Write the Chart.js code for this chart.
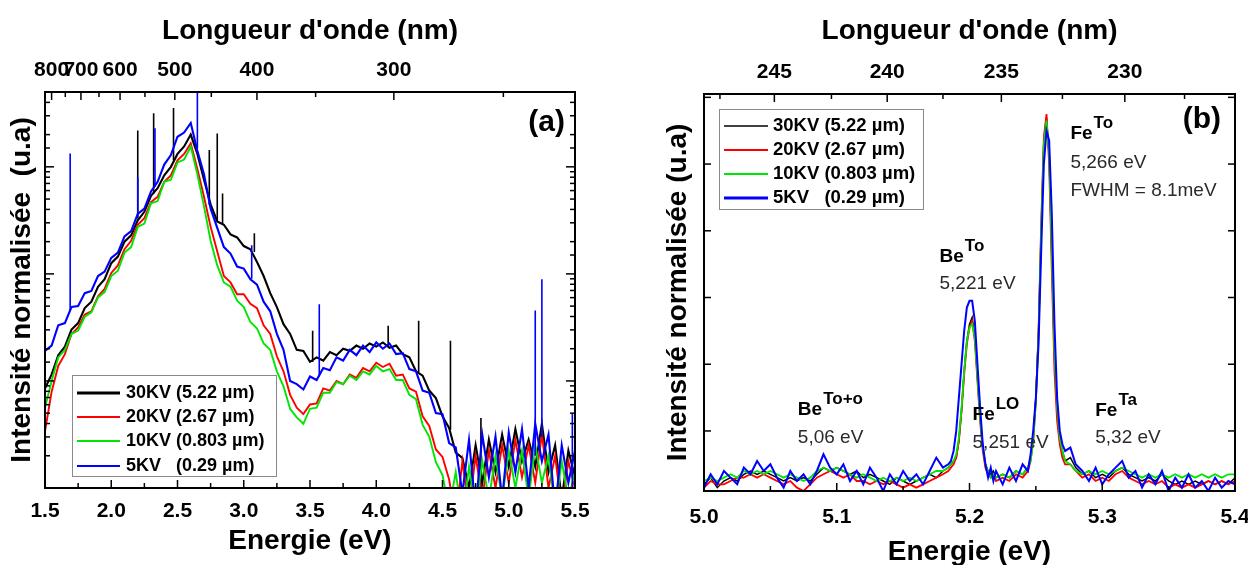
<!DOCTYPE html>
<html>
<head>
<meta charset="utf-8">
<title>Spectres CL</title>
<script src="https://cdn.jsdelivr.net/npm/chart.js"></script>
<style>
  body { margin: 0; background: #fff; }
  .panel { position: absolute; top: 0; height: 565px; }
  #panelA { left: 0; width: 620px; }
  #panelB { left: 624px; width: 624px; }
</style>
</head>
<body>
<div class="panel" id="panelA"><canvas id="chartA"></canvas></div>
<div class="panel" id="panelB"><canvas id="chartB"></canvas></div>
<script>
// ---- data, panel (a) : log intensity vs energy
const seriesNames = ['30KV (5.22 µm)', '20KV (2.67 µm)', '10KV (0.803 µm)', '5KV   (0.29 µm)'];
const seriesColors = ['#000000', '#ff0000', '#00e600', '#0000ff'];

const energyA = [1.50,1.55,1.60,1.65,1.70,1.75,1.80,1.85,1.90,1.95,2.00,2.05,2.10,2.15,2.20,2.25,2.30,2.35,2.40,2.45,
  2.50,2.55,2.60,2.65,2.70,2.75,2.80,2.85,2.90,2.95,3.00,3.05,3.10,3.15,3.20,3.25,3.30,3.35,3.40,3.45,
  3.50,3.55,3.60,3.65,3.70,3.75,3.80,3.85,3.90,3.95,4.00,4.05,4.10,4.15,4.20,4.25,4.30,4.35,4.40,4.45,
  4.50,4.55,4.60,4.65,4.70,4.75,4.80,4.85,4.90,4.95,5.00,5.05,5.10,5.15,5.20,5.25,5.30,5.35,5.40,5.45,5.50];

const aBlack = [8.51,11.5,17.4,20.9,30.2,34.7,47.9,55.0,75.9,89.1,126,145,200,229,316,380,537,631,832,1000,
  1320,1550,2000,1320,759,447,309,288,234,219,182,170,129,95.5,66.1,49.0,33.9,27.5,19.5,19.1,
  15.1,16.6,15.5,18.6,17.4,20.0,19.1,21.4,20.0,22.4,20.9,22.9,20.4,21.4,17.8,16.6,12.3,11.2,8.13,6.92,
  4.68,3.63,2.14,1.91,1.0,2.51,1.12,2.82,1.41,3.16,1.58,3.55,1.78,2.82,1.58,3.98,1.41,2.51,0.79,2.24,1.26];
const aRed = [3.39,7.94,13.8,17.8,27.5,31.6,41.7,44.7,61.7,72.4,102,120,170,204,288,331,468,525,724,832,
  1150,1320,1660,955,525,275,162,95.5,83.2,64.6,64.6,52.5,47.9,33.1,27.5,17.0,12.3,7.41,5.62,4.90,
  6.03,6.17,8.51,8.13,10.0,9.33,11.5,10.7,13.2,12.3,14.8,13.5,14.5,11.2,11.5,8.51,7.94,4.68,3.80,2.29,
  1.95,1.20,0.50,1.78,0.63,2.0,0.79,2.24,1.0,2.51,1.12,2.82,1.26,2.51,1.12,3.16,1.0,2.0,0.63,1.78,1.0];
const aGreen = [5.62,10.0,16.6,19.5,27.5,29.5,39.8,43.7,60.3,67.6,95.5,107,158,178,275,295,457,479,724,759,
  1100,1170,1550,851,427,204,120,83.2,75.9,56.2,49.0,35.5,30.9,22.4,19.5,12.3,8.91,5.50,4.57,3.98,
  5.50,5.62,7.76,7.76,9.77,9.33,11.2,10.2,12.3,11.5,13.8,12.3,12.9,10.2,10.2,7.41,6.76,3.89,3.02,1.74,
  1.32,0.63,1.41,0.50,1.58,0.63,1.78,0.79,2.0,0.79,2.24,1.0,2.24,0.79,2.51,1.12,2.0,0.63,1.78,0.79,1.41];
const aBlue = [19.1,21.4,33.1,34.7,49.0,50.1,66.1,69.2,95.5,105,141,158,224,251,363,407,589,724,1050,1290,
  1910,2090,2570,1410,851,407,269,178,155,117,112,89.1,79.4,55.0,44.7,27.5,19.5,10.0,9.33,8.32,
  11.0,10.2,13.2,12.6,16.6,15.5,19.5,17.4,21.4,18.6,22.9,20.0,22.4,17.8,18.2,12.9,12.3,8.13,7.76,5.01,
  4.90,2.63,2.40,0.89,2.82,0.63,3.16,1.26,3.02,0.79,3.31,1.41,3.55,1.0,3.98,1.78,3.16,0.63,2.51,1.12,2.24];

// narrow spikes: [energy, foot, tip]
const spikesBlack = [[2.20,330,2190],[2.32,560,3160],[2.47,1150,3540],[2.74,440,1440],[2.80,310,2050],
  [2.84,290,562],[3.08,160,240],[3.52,15,29.4],[4.09,21,32.8],[4.32,12,36.5],[4.56,3.5,23.7],[4.79,1.0,4.5]];
const spikesBlue = [[1.69,45,1330],[2.20,340,800],[2.33,650,2290],[2.65,1500,6000],[3.06,90,185],
  [3.57,11,52],[5.20,2,45.6],[5.25,3,89],[5.48,1,4.9]];

const waveTicksA = [800,750,700,650,600,550,500,450,400,350,300,250];
const waveLabelsA = [800,700,600,500,400,300];

// ---- data, panel (b) : linear intensity near the band edge
const energyB = [5.000,5.005,5.010,5.015,5.020,5.025,5.030,5.035,5.040,5.045,5.050,5.055,5.060,5.065,5.070,5.075,
  5.080,5.085,5.090,5.095,5.100,5.105,5.110,5.115,5.120,5.125,5.130,5.135,5.140,5.145,5.150,5.155,5.160,5.165,5.170,5.175,5.180,
  5.184,5.186,5.188,5.190,5.192,5.194,5.196,5.198,5.200,5.202,5.204,5.206,5.208,5.210,5.212,5.214,5.216,5.218,5.220,
  5.225,5.230,5.235,5.240,
  5.244,5.246,5.248,5.250,5.252,5.254,5.256,5.258,5.260,5.262,5.264,5.266,5.268,5.270,5.272,
  5.276,5.280,5.285,5.290,5.295,5.300,5.305,5.310,5.315,5.320,5.325,5.330,5.335,5.340,5.345,5.350,5.355,5.360,
  5.365,5.370,5.375,5.380,5.385,5.390,5.395,5.400];

const bBlack = [.04,.06,.03,.05,.06,.05,.07,.08,.07,.08,.07,.06,.05,.06,.05,.06,.05,.07,.09,.08,.09,.08,.07,.08,.06,.07,.06,.05,.04,.06,.05,.04,.05,.06,.07,.06,.08,
  .09,.10,.11,.12,.17,.26,.38,.47,.52,.54,.48,.36,.24,.15,.10,.08,.07,.08,.06,
  .07,.06,.08,.07,
  .09,.12,.18,.30,.50,.80,1.07,1.14,1.02,.72,.42,.26,.18,.14,.11,
  .12,.09,.07,.08,.06,.07,.06,.08,.09,.07,.06,.05,.06,.05,.07,.05,.04,.05,.04,.05,.04,.05,.04,.05,.04,.06];
const bRed = [.03,.05,.04,.04,.05,.06,.06,.07,.06,.07,.06,.05,.04,.05,.03,.02,.04,.06,.07,.08,.07,.06,.07,.05,.05,.04,.05,.04,.05,.04,.03,.04,.03,.04,.05,.06,.07,
  .08,.09,.10,.12,.17,.26,.37,.46,.51,.53,.47,.35,.23,.14,.09,.07,.06,.07,.05,
  .06,.05,.07,.06,
  .08,.11,.17,.29,.50,.82,1.08,1.15,1.00,.68,.38,.23,.16,.12,.10,
  .10,.08,.06,.07,.05,.06,.05,.07,.08,.06,.05,.04,.05,.04,.05,.03,.04,.03,.04,.03,.04,.05,.04,.05,.04,.05];
const bGreen = [.05,.06,.05,.06,.07,.06,.08,.07,.08,.07,.08,.07,.06,.07,.06,.05,.06,.08,.09,.08,.09,.08,.07,.06,.07,.06,.05,.06,.05,.06,.05,.06,.05,.06,.07,.08,.08,
  .09,.10,.11,.13,.18,.27,.38,.47,.51,.52,.48,.36,.24,.15,.10,.08,.06,.07,.06,
  .07,.06,.08,.07,
  .09,.11,.17,.29,.49,.80,1.06,1.13,1.03,.74,.44,.27,.18,.14,.11,
  .10,.08,.07,.08,.07,.08,.07,.08,.09,.08,.07,.06,.07,.06,.07,.06,.07,.06,.07,.06,.07,.06,.07,.06,.07,.07];
const bBlue = [.03,.07,.04,.08,.06,.04,.09,.07,.11,.08,.10,.06,.03,.08,.05,.07,.04,.08,.13,.09,.07,.10,.05,.08,.04,.09,.06,.02,.07,.04,.08,.05,.07,.04,.08,.12,.09,
  .10,.11,.14,.20,.30,.40,.50,.57,.59,.59,.53,.40,.27,.16,.10,.06,.09,.05,.08,
  .04,.09,.05,.10,
  .08,.13,.20,.30,.46,.74,1.00,1.10,1.07,.85,.52,.30,.20,.16,.14,
  .15,.10,.08,.05,.09,.04,.07,.09,.11,.06,.08,.03,.07,.04,.08,.02,.06,.03,.07,.03,.05,.02,.06,.03,.05,.04];

// top axis of (b): wavelength ticks and where they sit on the energy axis
const waveTicksB = [247.5,245,242.5,240,237.5,235,232.5,230,227.5];
const waveTickEnergyB = [5.012,5.053,5.096,5.138,5.180,5.224,5.270,5.317,5.362];
const waveLabelsB = [245,240,235,230];
const yTicksB = [0.2,0.4,0.6,0.8,1.0,1.2];

const peakNamesB = [
  { e: 5.0707, v: 0.249, base: 'Be', sup: 'To+o' },
  { e: 5.1774, v: 0.706, base: 'Be', sup: 'To' },
  { e: 5.2023, v: 0.234, base: 'Fe', sup: 'LO' },
  { e: 5.2760, v: 1.075, base: 'Fe', sup: 'To' },
  { e: 5.2947, v: 0.245, base: 'Fe', sup: 'Ta' }
];
const peakNotesB = [
  { e: 5.0707, v: 0.164, text: '5,06 eV' },
  { e: 5.1774, v: 0.626, text: '5,221 eV' },
  { e: 5.2023, v: 0.149, text: '5,251 eV' },
  { e: 5.2760, v: 0.988, text: '5,266 eV' },
  { e: 5.2760, v: 0.904, text: 'FWHM = 8.1meV' },
  { e: 5.2947, v: 0.164, text: '5,32 eV' }
];

const hc = 1239.84;
const FONT = "'Liberation Sans', Arial, sans-serif";
Chart.defaults.font.family = FONT;
Chart.defaults.color = '#000';

const isStep = (v, s) => Math.abs(v / s - Math.round(v / s)) < 1e-6;

function lineSet(i, xs, ys, width) {
  return {
    label: seriesNames[i],
    legendRow: i,
    data: xs.map((x, k) => ({ x: x, y: ys[k] })),
    borderColor: seriesColors[i],
    borderWidth: width,
    order: 4 - i,
    pointRadius: 0,
    fill: false
  };
}

function spikeSet(i, spikes, width) {
  const pts = [];
  spikes.forEach(s => {
    pts.push({ x: s[0], y: s[1] }, { x: s[0], y: s[2] }, { x: s[0], y: null });
  });
  return { data: pts, borderColor: seriesColors[i], borderWidth: width, order: 4 - i, pointRadius: 0, spanGaps: false };
}

// keep the chart area fixed: no extra room for the end labels
function fixHeight(h) {
  return s => { s.height = h; s.paddingLeft = 0; s.paddingRight = 0; };
}

// frame, inner ticks, panel letter and legend
const framePlugin = {
  id: 'frame',
  afterDatasetsDraw(chart, args, opts) {
    const { ctx, chartArea: a, scales } = chart;
    const mark = (x1, y1, x2, y2) => { ctx.beginPath(); ctx.moveTo(x1, y1); ctx.lineTo(x2, y2); ctx.stroke(); };
    ctx.save();
    ctx.strokeStyle = '#000';
    ctx.lineWidth = 1.5;
    scales.x.ticks.forEach(t => {
      const px = scales.x.getPixelForValue(t.value);
      mark(px, a.bottom, px, a.bottom - (t.label ? opts.major : opts.minor));
    });
    scales.xTop.ticks.forEach(t => {
      const px = scales.xTop.getPixelForValue(t.value);
      mark(px, a.top, px, a.top + (t.label ? opts.major : opts.minor));
    });
    scales.y.ticks.forEach(t => {
      const py = scales.y.getPixelForValue(t.value);
      let big = true;
      if (opts.logY) {
        const l = Math.log10(t.value);
        big = Math.abs(l - Math.round(l)) < 1e-6;
      }
      const len = big ? opts.yMajor : opts.minor;
      mark(a.left, py, a.left + len, py);
      mark(a.right, py, a.right - len, py);
    });
    ctx.lineWidth = 2;
    ctx.strokeRect(a.left, a.top, a.right - a.left, a.bottom - a.top);

    ctx.fillStyle = '#000';
    ctx.font = 'bold 30px ' + FONT;
    ctx.textAlign = 'right';
    ctx.textBaseline = 'alphabetic';
    ctx.fillText(opts.letter, a.right - opts.letterDx, a.top + opts.letterDy);

    const lg = opts.legend;
    const bx = a.left + lg.dx;
    const by = lg.fromBottom ? a.bottom - lg.dy - lg.h : a.top + lg.dy;
    ctx.fillStyle = '#fff';
    ctx.fillRect(bx, by, lg.w, lg.h);
    ctx.strokeStyle = '#8a8a8a';
    ctx.lineWidth = 1;
    ctx.strokeRect(bx + 0.5, by + 0.5, lg.w, lg.h);
    ctx.font = 'bold ' + lg.size + 'px ' + FONT;
    ctx.textAlign = 'left';
    ctx.textBaseline = 'middle';
    chart.data.datasets.forEach(d => {
      if (d.legendRow === undefined) return;
      const ry = by + lg.rows[d.legendRow];
      ctx.strokeStyle = d.borderColor;
      ctx.lineWidth = lg.widths[d.legendRow];
      mark(bx + lg.x1, ry, bx + lg.x2, ry);
      ctx.fillStyle = '#000';
      ctx.fillText(d.label, bx + lg.tx, ry);
    });
    ctx.restore();
  }
};

// peak names and energies of panel (b)
const peakLabelPlugin = {
  id: 'peakLabels',
  afterDatasetsDraw(chart) {
    const { ctx, scales } = chart;
    ctx.save();
    ctx.textAlign = 'left';
    ctx.textBaseline = 'alphabetic';
    peakNamesB.forEach(p => {
      const x = scales.x.getPixelForValue(p.e);
      const y = scales.y.getPixelForValue(p.v);
      ctx.fillStyle = '#000';
      ctx.font = 'bold 19px ' + FONT;
      ctx.fillText(p.base, x, y);
      const w = ctx.measureText(p.base).width;
      ctx.font = 'bold 17px ' + FONT;
      ctx.fillText(p.sup, x + w + 1, y - 11);
    });
    ctx.fillStyle = '#2a2a2a';
    ctx.font = '19px ' + FONT;
    peakNotesB.forEach(p => {
      ctx.fillText(p.text, scales.x.getPixelForValue(p.e), scales.y.getPixelForValue(p.v));
    });
    ctx.restore();
  }
};

const tickFont = { size: 21, weight: 'bold' };
const titleFont = { size: 28, weight: 'bold' };
const noGrid = { display: false, drawTicks: false };

// ---- panel (a)
new Chart(document.getElementById('chartA'), {
  type: 'line',
  data: {
    datasets: [
      lineSet(0, energyA, aBlack, 2.1),
      lineSet(1, energyA, aRed, 1.9),
      lineSet(2, energyA, aGreen, 1.9),
      lineSet(3, energyA, aBlue, 2.1),
      spikeSet(0, spikesBlack, 1.6),
      spikeSet(3, spikesBlue, 1.6)
    ]
  },
  plugins: [framePlugin],
  options: {
    animation: false,
    responsive: true,
    maintainAspectRatio: false,
    layout: { padding: { left: 0, right: 45, top: 0, bottom: 0 }, autoPadding: false },
    plugins: {
      legend: { display: false },
      tooltip: { enabled: false },
      frame: {
        major: 8, minor: 5, yMajor: 9, logY: true,
        letter: '(a)', letterDx: 10, letterDy: 39,
        legend: { dx: 27, dy: 12, fromBottom: true, w: 204, h: 101, size: 18,
          x1: 5, x2: 48, tx: 54, rows: [18, 42, 66, 91], widths: [3, 2, 2, 2] }
      }
    },
    scales: {
      x: {
        type: 'linear', position: 'bottom', min: 1.5, max: 5.5,
        grid: noGrid, border: { display: false },
        ticks: { stepSize: 0.25, autoSkip: false, maxRotation: 0, padding: 11, font: tickFont, color: '#000',
          callback: v => isStep(v, 0.5) ? v.toFixed(1) : '' },
        title: { display: true, text: 'Energie (eV)', font: titleFont, color: '#000', padding: { top: 0, bottom: 7 } },
        afterFit: fixHeight(77)
      },
      xTop: {
        type: 'linear', position: 'top', min: 1.5, max: 5.5,
        grid: noGrid, border: { display: false },
        afterBuildTicks: s => { s.ticks = waveTicksA.map(nm => ({ value: hc / nm })); },
        ticks: { autoSkip: false, maxRotation: 0, padding: 9, font: tickFont, color: '#000',
          callback: (v, i) => waveLabelsA.includes(waveTicksA[i]) ? String(waveTicksA[i]) : '' },
        title: { display: true, text: "Longueur d'onde (nm)", font: titleFont, color: '#000', padding: { top: 14, bottom: 0 } },
        afterFit: fixHeight(92)
      },
      y: {
        type: 'logarithmic', min: 1, max: 5000,
        grid: noGrid, border: { display: false },
        ticks: { display: false },
        title: { display: true, text: 'Intensité normalisée  (u.a)', font: titleFont, color: '#000', padding: { top: 5, bottom: 0 } },
        afterFit: s => { s.width = 45; }
      }
    }
  }
});

// ---- panel (b)
new Chart(document.getElementById('chartB'), {
  type: 'line',
  data: {
    datasets: [
      lineSet(0, energyB, bBlack, 1.5),
      lineSet(1, energyB, bRed, 1.8),
      lineSet(2, energyB, bGreen, 1.8),
      lineSet(3, energyB, bBlue, 2)
    ]
  },
  plugins: [framePlugin, peakLabelPlugin],
  options: {
    animation: false,
    responsive: true,
    maintainAspectRatio: false,
    layout: { padding: { left: 0, right: 13, top: 0, bottom: 0 }, autoPadding: false },
    plugins: {
      legend: { display: false },
      tooltip: { enabled: false },
      frame: {
        major: 8, minor: 5, yMajor: 7, logY: false,
        letter: '(b)', letterDx: 14, letterDy: 34,
        legend: { dx: 15, dy: 15, fromBottom: false, w: 204, h: 100, size: 18.5,
          x1: 5, x2: 49, tx: 54, rows: [17, 41, 65, 89], widths: [1.5, 2, 2, 3] }
      }
    },
    scales: {
      x: {
        type: 'linear', position: 'bottom', min: 5.0, max: 5.4,
        grid: noGrid, border: { display: false },
        ticks: { stepSize: 0.05, autoSkip: false, maxRotation: 0, padding: 14, font: tickFont, color: '#000',
          callback: v => isStep(v, 0.1) ? v.toFixed(1) : '' },
        title: { display: true, text: 'Energie (eV)', font: titleFont, color: '#000', padding: { top: 0, bottom: -4 } },
        afterFit: fixHeight(74)
      },
      xTop: {
        type: 'linear', position: 'top', min: 5.0, max: 5.4,
        grid: noGrid, border: { display: false },
        afterBuildTicks: s => { s.ticks = waveTickEnergyB.map(e => ({ value: e })); },
        ticks: { autoSkip: false, maxRotation: 0, padding: 9, font: tickFont, color: '#000',
          callback: (v, i) => waveLabelsB.includes(waveTicksB[i]) ? String(waveTicksB[i]) : '' },
        title: { display: true, text: "Longueur d'onde (nm)", font: titleFont, color: '#000', padding: { top: 14, bottom: 0 } },
        afterFit: fixHeight(94)
      },
      y: {
        type: 'linear', min: 0.02, max: 1.21,
        grid: noGrid, border: { display: false },
        afterBuildTicks: s => { s.ticks = yTicksB.map(v => ({ value: v })); },
        ticks: { display: false },
        title: { display: true, text: 'Intensité normalisée (u.a)', font: titleFont, color: '#000', padding: { top: 37, bottom: 0 } },
        afterFit: s => { s.width = 80; }
      }
    }
  }
});
</script>
</body>
</html>
